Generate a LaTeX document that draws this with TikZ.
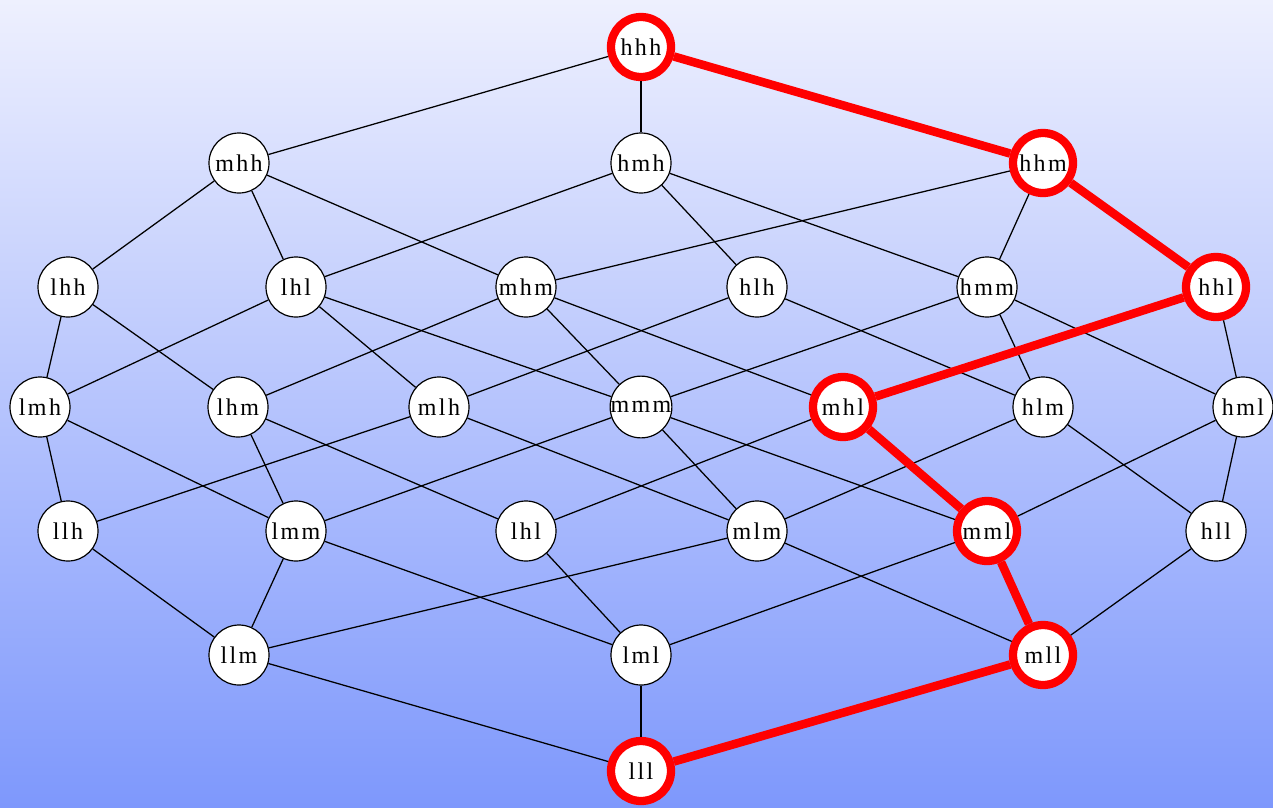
\documentclass[tikz,border=0pt]{standalone}
\usepackage{fontspec}
\setmainfont{Liberation Serif}[LetterSpace=10]
\definecolor{bgtop}{RGB}{238,240,254}
\definecolor{bgbot}{RGB}{126,152,252}
\tikzset{
  vtx/.style={circle, draw=black, fill=white, line width=0.9pt, minimum size=45pt, inner sep=0pt, font=\fontsize{18}{20}\selectfont},
  hot/.style={draw=red, line width=6.2pt},
  edge/.style={draw=black, line width=0.95pt},
  path/.style={draw=red, line width=6.4pt}
}
\begin{document}
\begin{tikzpicture}[x=0.75pt,y=-0.75pt]
\shade[top color=bgtop, bottom color=bgbot] (0,0) rectangle (1273,807);
\useasboundingbox (0,0) rectangle (1273,807);
% rank 6
\node[vtx,hot] (hhh) at (641,47) {hhh};
% rank 5
\node[vtx] (mhh) at (239,163) {mhh};
\node[vtx] (hmh) at (641,163) {hmh};
\node[vtx,hot] (hhm) at (1043,163) {hhm};
% rank 4
\node[vtx] (lhh) at (68,287) {lhh};
\node[vtx] (lhlu) at (296,287) {lhl};
\node[vtx] (mhm) at (526,287) {mhm};
\node[vtx] (hlh) at (757,287) {hlh};
\node[vtx] (hmm) at (987,287) {hmm};
\node[vtx,hot] (hhl) at (1216,287) {hhl};
% rank 3
\node[vtx] (lmh) at (40,407) {lmh};
\node[vtx] (lhm) at (238,407) {lhm};
\node[vtx] (mlh) at (439,407) {mlh};
\node[vtx] (mmm) at (641,407) {mmm};
\node[vtx,hot] (mhl) at (843,407) {mhl};
\node[vtx] (hlm) at (1043,407) {hlm};
\node[vtx] (hml) at (1243,407) {hml};
% rank 2
\node[vtx] (llh) at (68,531) {llh};
\node[vtx] (lmm) at (296,531) {lmm};
\node[vtx] (lhld) at (526,531) {lhl};
\node[vtx] (mlm) at (757,531) {mlm};
\node[vtx,hot] (mml) at (987,531) {mml};
\node[vtx] (hll) at (1216,531) {hll};
% rank 1
\node[vtx] (llm) at (239,655) {llm};
\node[vtx] (lml) at (641,655) {lml};
\node[vtx,hot] (mll) at (1043,655) {mll};
% rank 0
\node[vtx,hot] (lll) at (641,771) {lll};
% covering relations
\draw[edge] (hhh) -- (mhh);
\draw[edge] (hhh) -- (hmh);
\draw[edge] (mhh) -- (lhh);
\draw[edge] (mhh) -- (lhlu);
\draw[edge] (mhh) -- (mhm);
\draw[edge] (hmh) -- (lhlu);
\draw[edge] (hmh) -- (hlh);
\draw[edge] (hmh) -- (hmm);
\draw[edge] (hhm) -- (mhm);
\draw[edge] (hhm) -- (hmm);
\draw[edge] (lhh) -- (lmh);
\draw[edge] (lhh) -- (lhm);
\draw[edge] (lhlu) -- (lmh);
\draw[edge] (lhlu) -- (mlh);
\draw[edge] (lhlu) -- (mmm);
\draw[edge] (mhm) -- (lhm);
\draw[edge] (mhm) -- (mmm);
\draw[edge] (mhm) -- (mhl);
\draw[edge] (hlh) -- (mlh);
\draw[edge] (hlh) -- (hlm);
\draw[edge] (hmm) -- (mmm);
\draw[edge] (hmm) -- (hlm);
\draw[edge] (hmm) -- (hml);
\draw[edge] (hhl) -- (hml);
\draw[edge] (lmh) -- (llh);
\draw[edge] (lmh) -- (lmm);
\draw[edge] (lhm) -- (lmm);
\draw[edge] (lhm) -- (lhld);
\draw[edge] (mlh) -- (llh);
\draw[edge] (mlh) -- (mlm);
\draw[edge] (mmm) -- (lmm);
\draw[edge] (mmm) -- (mlm);
\draw[edge] (mmm) -- (mml);
\draw[edge] (mhl) -- (lhld);
\draw[edge] (hlm) -- (mlm);
\draw[edge] (hlm) -- (hll);
\draw[edge] (hml) -- (mml);
\draw[edge] (hml) -- (hll);
\draw[edge] (llh) -- (llm);
\draw[edge] (lmm) -- (llm);
\draw[edge] (lmm) -- (lml);
\draw[edge] (lhld) -- (lml);
\draw[edge] (mlm) -- (llm);
\draw[edge] (mlm) -- (mll);
\draw[edge] (mml) -- (lml);
\draw[edge] (hll) -- (mll);
\draw[edge] (llm) -- (lll);
\draw[edge] (lml) -- (lll);
% highlighted chain
\draw[path] (hhh) -- (hhm);
\draw[path] (hhm) -- (hhl);
\draw[path] (hhl) -- (mhl);
\draw[path] (mhl) -- (mml);
\draw[path] (mml) -- (mll);
\draw[path] (mll) -- (lll);
\end{tikzpicture}
\end{document}
